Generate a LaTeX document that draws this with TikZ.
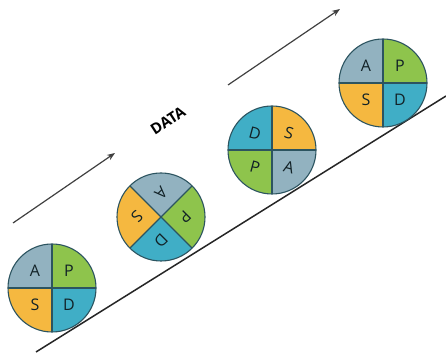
\documentclass[tikz,border=0pt]{standalone}
\usepackage{fontspec}
\setmainfont{Open Sans}
\usetikzlibrary{arrows.meta}
\definecolor{actcol}{RGB}{146,178,192}
\definecolor{plancol}{RGB}{142,196,76}
\definecolor{studycol}{RGB}{245,184,64}
\definecolor{docol}{RGB}{64,174,198}
\definecolor{rimcol}{RGB}{44,84,96}
\begin{document}
\begin{tikzpicture}[
    x=1pt,
    y=1pt,
    rim/.style={draw=rimcol, line width=1.1pt},
    letter/.style={font=\fontsize{16}{16}\selectfont, text=rimcol!40!black, inner sep=0pt},
    flow/.style={line width=1.2pt, draw=black!75, -{Stealth[length=8pt,width=6pt]}},
    ground/.style={line width=1.5pt, draw=black!85}
  ]
    \useasboundingbox (0,0) rectangle (446,355);
    \coordinate (g1) at (36,3);
    \coordinate (g2) at (446,259);
    \draw[ground] (g1) -- (g2);
    \coordinate (f1s) at (13,132);
    \coordinate (f1e) at (115,202);
    \coordinate (f2s) at (228,270);
    \coordinate (f2e) at (340,346);
    \draw[flow] (f1s) -- (f1e);
    \draw[flow] (f2s) -- (f2e);
    \node[font=\bfseries\fontsize{15}{15}\selectfont, rotate=33] (data) at (168,234) {DATA};
    \foreach \cx/\cy/\rot/\tilt [count=\i] in {52/67/0/0, 161/138/-45/-135, 272/205/-180/-15, 383/272/-360/0} {
      \coordinate (c\i) at (\cx,\cy);
      \fill[plancol] (c\i) -- ++(\rot:44) arc[start angle=\rot, end angle=\rot+90, radius=44] -- cycle;
      \fill[actcol] (c\i) -- ++(\rot+90:44) arc[start angle=\rot+90, end angle=\rot+180, radius=44] -- cycle;
      \fill[studycol] (c\i) -- ++(\rot+180:44) arc[start angle=\rot+180, end angle=\rot+270, radius=44] -- cycle;
      \fill[docol] (c\i) -- ++(\rot+270:44) arc[start angle=\rot+270, end angle=\rot+360, radius=44] -- cycle;
      \draw[rim] (c\i) ++(\rot:44) -- ++(\rot+180:88);
      \draw[rim] (c\i) ++(\rot+90:44) -- ++(\rot+270:88);
      \draw[rim] (c\i) circle[radius=44];
      \path (c\i) ++(\rot+135:24) node[letter, rotate=\tilt] (A\i) {A};
      \path (c\i) ++(\rot+45:24) node[letter, rotate=\tilt] (P\i) {P};
      \path (c\i) ++(\rot+225:24) node[letter, rotate=\tilt] (S\i) {S};
      \path (c\i) ++(\rot+315:24) node[letter, rotate=\tilt] (D\i) {D};
    }
  \end{tikzpicture}
\end{document}
